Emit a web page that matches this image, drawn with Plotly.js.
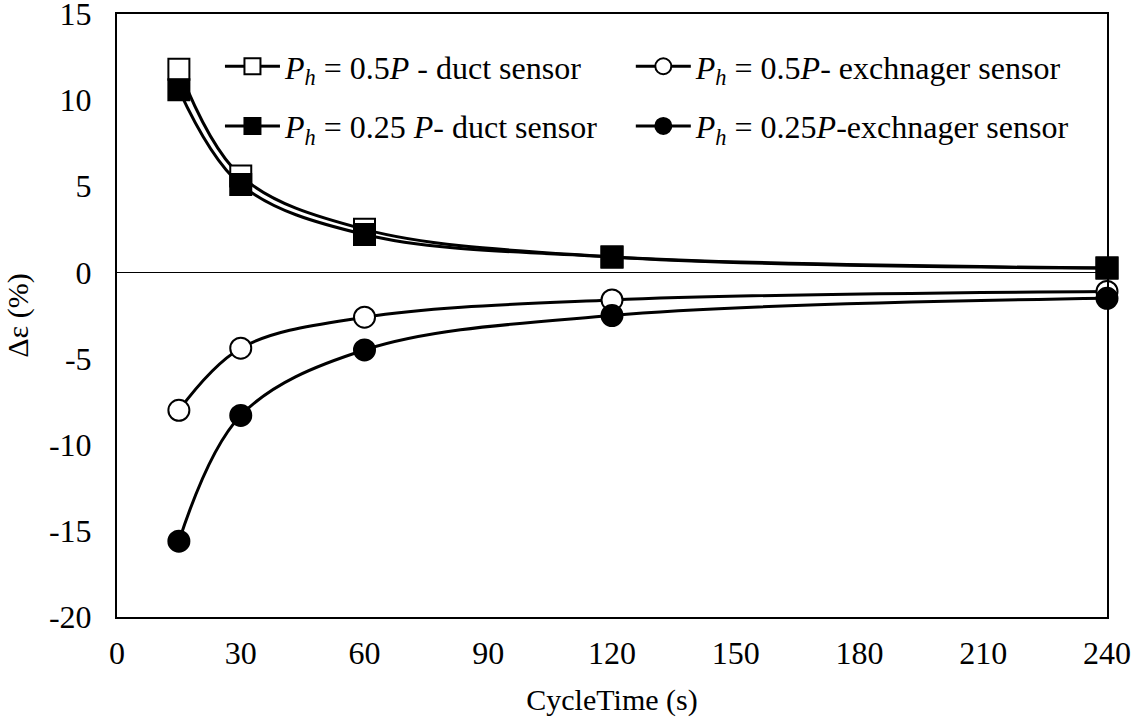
<!DOCTYPE html>
<html>
<head>
<meta charset="utf-8">
<script src="https://cdn.plot.ly/plotly-3.0.1.min.js"></script>
<style>html,body{margin:0;padding:0;background:#fff;}#chart{width:1142px;height:722px;}</style>
</head>
<body>
<div id="chart"></div>
<script>
const cycleTime = [15, 30, 60, 120, 240];
const duct05 = [11.8, 5.6, 2.5, 0.9, 0.25];
const duct025 = [10.6, 5.1, 2.2, 0.9, 0.25];
const exch05 = [-8.0, -4.4, -2.6, -1.6, -1.1];
const exch025 = [-15.6, -8.3, -4.5, -2.5, -1.5];
const names = [
  '<i>P</i><sub><i>h</i></sub> = 0.5<i>P</i> - duct sensor',
  '<i>P</i><sub><i>h</i></sub> = 0.25 <i>P</i>- duct sensor',
  '<i>P</i><sub><i>h</i></sub> = 0.5<i>P</i>- exchnager sensor',
  '<i>P</i><sub><i>h</i></sub> = 0.25<i>P</i>-exchnager sensor'
];
const xTicks = [0, 30, 60, 90, 120, 150, 180, 210, 240];
const yTicks = [-20, -15, -10, -5, 0, 5, 10, 15];
const yTickText = ['-20', '-15', '-10', '-5', '0', '5', '10', '15'];

function tr(y, name, symbol, fill, legend) {
  return {
    x: cycleTime, y: y, name: name, type: 'scatter', mode: 'lines+markers',
    line: {color: '#000', width: 3, shape: 'spline', smoothing: 1.0},
    marker: {symbol: symbol, size: 21, color: fill, line: {color: '#000', width: 2}},
    cliponaxis: false, legend: legend
  };
}
const data = [
  tr(duct05, names[0], 'square', '#fff', 'legend'),
  tr(duct025, names[1], 'square', '#000', 'legend2'),
  tr(exch05, names[2], 'circle', '#fff', 'legend3'),
  tr(exch025, names[3], 'circle', '#000', 'legend4')
];
const FAM = '"Liberation Serif", "Times New Roman", serif';
const f = (s) => ({family: FAM, size: s, color: '#000'});
const legBase = {
  orientation: 'h', xanchor: 'left', yanchor: 'middle', itemwidth: 55,
  bgcolor: 'rgba(0,0,0,0)', borderwidth: 0,
  font: f(32)
};
const layout = {
  width: 1142, height: 722,
  margin: {l: 117, r: 35, t: 14, b: 105},
  paper_bgcolor: '#fff', plot_bgcolor: '#fff',
  font: f(30),
  showlegend: true,
  legend: Object.assign({x: 0.104, y: 0.913}, legBase),
  legend2: Object.assign({x: 0.104, y: 0.814}, legBase),
  legend3: Object.assign({x: 0.519, y: 0.913}, legBase),
  legend4: Object.assign({x: 0.519, y: 0.814}, legBase),
  xaxis: {
    range: [0, 240], tickvals: xTicks, ticks: '', showgrid: false, zeroline: false,
    showline: true, mirror: true, linecolor: '#000', linewidth: 2,
    tickfont: f(32), ticklabeloverflow: 'allow', ticklabelstandoff: 7,
    title: {text: 'CycleTime (s)', font: f(30), standoff: 19}
  },
  yaxis: {
    range: [-20, 15], tickvals: yTicks, ticktext: yTickText, ticks: '', showgrid: false,
    zeroline: true, zerolinecolor: '#000', zerolinewidth: 1.5,
    showline: true, mirror: true, linecolor: '#000', linewidth: 2,
    tickfont: f(32), ticklabeloverflow: 'allow', ticklabelstandoff: 17,
    title: {text: 'Δε (%)', font: f(30), standoff: 11}
  }
};
Plotly.newPlot('chart', data, layout, {displayModeBar: false, staticPlot: true});
</script>
</body>
</html>
